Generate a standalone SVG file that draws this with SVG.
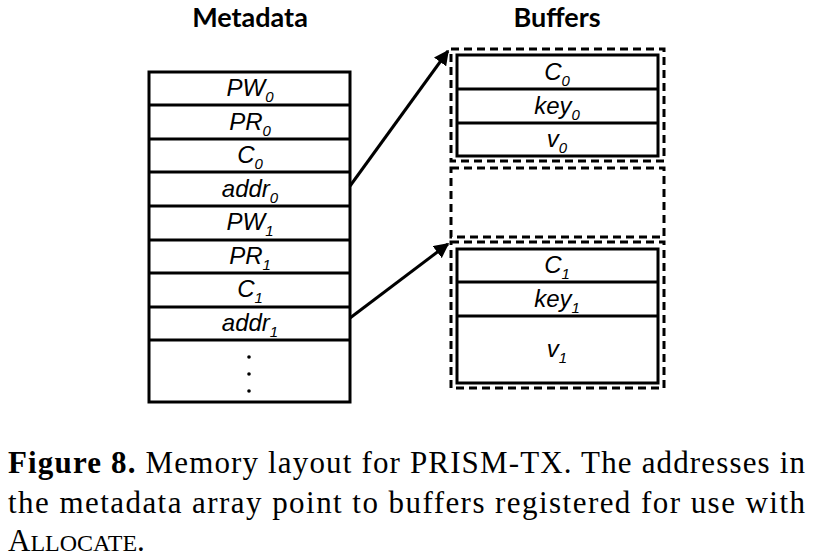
<svg xmlns="http://www.w3.org/2000/svg" width="813" height="560" viewBox="0 0 813 560">
<style>
.cell{fill:#fff;stroke:#000;stroke-width:3}
.rl{stroke:#000;stroke-width:3}
.dash{fill:none;stroke:#000;stroke-width:3;stroke-dasharray:8 5}
.lab{font-family:"Liberation Sans",Arial,sans-serif;font-style:italic;font-size:24px;text-anchor:middle}
.sub{font-size:15px}
.title{font-family:Lato,"Liberation Sans",sans-serif;font-weight:bold;font-size:27px;text-anchor:middle}
.cap{font-family:"Liberation Serif","Times New Roman",serif;font-size:31px}
.conn{stroke:#000;stroke-width:3;fill:none}
</style>
<defs>
<marker id="ah" viewBox="0 0 10 10" refX="9" refY="5" markerWidth="5" markerHeight="5" orient="auto" markerUnits="strokeWidth">
<path d="M0,0 L10,5 L0,10 z" fill="#000"/>
</marker>
</defs>
<text class="title" x="250" y="27">Metadata</text>
<text class="title" x="557" y="27">Buffers</text>
<g id="metadata">
<rect class="cell" x="149" y="72" width="201" height="330"/>
<line class="rl" x1="149" y1="105" x2="350" y2="105"/>
<line class="rl" x1="149" y1="139" x2="350" y2="139"/>
<line class="rl" x1="149" y1="172" x2="350" y2="172"/>
<line class="rl" x1="149" y1="206" x2="350" y2="206"/>
<line class="rl" x1="149" y1="240" x2="350" y2="240"/>
<line class="rl" x1="149" y1="273" x2="350" y2="273"/>
<line class="rl" x1="149" y1="307" x2="350" y2="307"/>
<line class="rl" x1="149" y1="340" x2="350" y2="340"/>
<text class="lab" x="250" y="96">PW<tspan class="sub" dy="6">0</tspan></text>
<text class="lab" x="250" y="130">PR<tspan class="sub" dy="6">0</tspan></text>
<text class="lab" x="250" y="163">C<tspan class="sub" dy="6">0</tspan></text>
<text class="lab" x="250" y="197">addr<tspan class="sub" dy="6">0</tspan></text>
<text class="lab" x="250" y="230">PW<tspan class="sub" dy="6">1</tspan></text>
<text class="lab" x="250" y="264">PR<tspan class="sub" dy="6">1</tspan></text>
<text class="lab" x="250" y="297">C<tspan class="sub" dy="6">1</tspan></text>
<text class="lab" x="250" y="331">addr<tspan class="sub" dy="6">1</tspan></text>
<circle cx="249" cy="357" r="1.8"/>
<circle cx="249" cy="374" r="1.8"/>
<circle cx="249" cy="391" r="1.8"/>
</g>
<g id="buffer0">
<rect class="dash" x="451" y="49" width="213" height="112"/>
<rect class="cell" x="457" y="55" width="201" height="101"/>
<line class="rl" x1="457" y1="89" x2="658" y2="89"/>
<line class="rl" x1="457" y1="123" x2="658" y2="123"/>
<text class="lab" x="557" y="80">C<tspan class="sub" dy="6">0</tspan></text>
<text class="lab" x="557" y="114">key<tspan class="sub" dy="6">0</tspan></text>
<text class="lab" x="557" y="147">v<tspan class="sub" dy="6">0</tspan></text>
</g>
<g id="buffer-empty">
<rect class="dash" x="451" y="168" width="213" height="69"/>
</g>
<g id="buffer1">
<rect class="dash" x="451" y="242" width="213" height="146"/>
<rect class="cell" x="457" y="249" width="201" height="134"/>
<line class="rl" x1="457" y1="282" x2="658" y2="282"/>
<line class="rl" x1="457" y1="316" x2="658" y2="316"/>
<text class="lab" x="557" y="273">C<tspan class="sub" dy="6">1</tspan></text>
<text class="lab" x="557" y="307">key<tspan class="sub" dy="6">1</tspan></text>
<text class="lab" x="557" y="357">v<tspan class="sub" dy="6">1</tspan></text>
</g>
<g id="connectors">
<line class="conn" x1="350" y1="186" x2="448" y2="51" marker-end="url(#ah)"/>
<line class="conn" x1="350" y1="318" x2="448" y2="244" marker-end="url(#ah)"/>
</g>
<g id="caption">
<text class="cap" x="8" y="473" textLength="797" lengthAdjust="spacing"><tspan font-weight="bold">Figure 8.</tspan> Memory layout for PRISM-TX. The addresses in</text>
<text class="cap" x="8" y="513" textLength="797" lengthAdjust="spacing">the metadata array point to buffers registered for use with</text>
<text class="cap" x="8" y="551">A<tspan font-size="24">LLOCATE</tspan>.</text>
</g>
</svg>
